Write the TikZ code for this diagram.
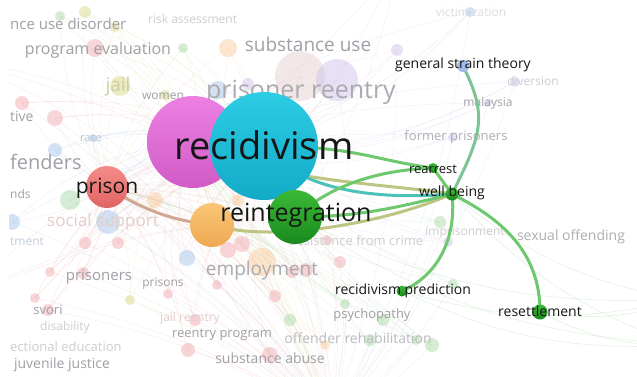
\documentclass[tikz,border=0pt]{standalone}
\usepackage{fontspec}
\newfontfamily\vosfont{Open Sans}
\usetikzlibrary{positioning,calc}
\definecolor{Cyan}{RGB}{45,205,228}
\definecolor{CyanDk}{RGB}{18,170,200}
\definecolor{Magenta}{RGB}{236,128,226}
\definecolor{MagentaDk}{RGB}{208,92,198}
\definecolor{Leaf}{RGB}{60,185,55}
\definecolor{LeafDk}{RGB}{25,138,30}
\definecolor{Apricot}{RGB}{250,198,118}
\definecolor{ApricotDk}{RGB}{238,168,82}
\definecolor{Salmon}{RGB}{244,140,138}
\definecolor{SalmonDk}{RGB}{224,100,100}
\definecolor{Steel}{RGB}{160,185,232}
\definecolor{EdgeGreen}{RGB}{110,200,110}
\definecolor{EdgeTeal}{RGB}{75,195,185}
\definecolor{EdgeOlive}{RGB}{190,196,130}
\definecolor{EdgeBrown}{RGB}{208,168,145}
\definecolor{Ink}{RGB}{22,22,22}
\definecolor{Fade}{RGB}{160,160,166}
\definecolor{Faint}{RGB}{205,205,210}
\definecolor{fPink}{RGB}{240,165,170}
\definecolor{fGreen}{RGB}{165,215,160}
\definecolor{fBlue}{RGB}{160,195,230}
\definecolor{fLav}{RGB}{205,190,235}
\definecolor{fOlive}{RGB}{215,215,130}
\definecolor{fOrange}{RGB}{250,200,150}
\definecolor{fRose}{RGB}{228,205,205}
\pgfdeclarelayer{mesh}
\pgfdeclarelayer{faded}
\pgfdeclarelayer{links}
\pgfsetlayers{mesh,faded,links,main}
\tikzset{
  bubble/.style={circle,inner sep=0pt,draw=none},
  hotdot/.style={bubble,minimum size=#1,top color=Leaf,bottom color=LeafDk},
  lbl/.style={font=\vosfont\fontsize{#1}{#1}\selectfont,text=Ink,inner sep=0pt},
  dim/.style={lbl=#1,text=Fade},
  faint/.style={lbl=#1,text=Faint},
  link/.style={line width=3pt,EdgeGreen,line cap=round},
  ghost/.style={line width=.45pt,opacity=.22},
}
% faded background items: x/y/radius/colour
\def\dotlist{85/12/6/fOlive, 60/16/5/fGreen, 115/27/5/fOlive, 95/48/9/fPink,
  183/48/5/fGreen, 228/48/9/fOrange, 120/86/10/fOlive, 165/95/5/fOlive,
  218/90/9/fBlue, 248/84/6/fLav, 300/76/25/fRose, 337/80/21/fLav,
  397/50/6/fLav, 515/82/5/fLav, 488/103/4/fLav, 453/137/5/fLav,
  22/103/7/fPink, 55/118/8/fPink, 55/150/7/fBlue, 93/138/4/fBlue,
  70/200/10/fGreen, 12/222/8/fBlue, 108/222/12/fBlue, 85/243/6/fPink,
  118/243/6/fPink, 50/272/5/fPink, 83/273/6/fPink, 35/298/5/fPink,
  130/300/5/fOlive, 48/310/6/fPink, 168/294/5/fPink, 187/258/8/fBlue,
  228/250/8/fPink, 242/244/8/fPink, 262/262/14/fOrange, 292/272/6/fPink,
  306/270/7/fPink, 275/296/6/fPink, 217/285/5/fPink, 195/320/6/fPink,
  188/350/7/fPink, 270/355/8/fPink, 340/262/6/fPink, 327/240/5/fPink,
  440/222/6/fGreen, 448/242/5/fLav, 453/284/5/fGreen, 345/304/5/fGreen,
  383/320/6/fGreen, 370/340/6/fGreen, 432/345/7/fGreen, 416/340/5/fGreen,
  290/320/6/fGreen, 325/345/5/fOrange, 470/12/5/fBlue, 155/200/8/fOrange,
  238/200/6/fOrange}

\begin{document}
\begin{tikzpicture}[x=1pt,y=-1pt]
  \useasboundingbox (0,0) rectangle (637,376);

  % highlighted clusters
  \node[bubble,minimum size=92,top color=Magenta,bottom color=MagentaDk] (pinkb) at (193,142) {};
  \node[bubble,minimum size=108,top color=Cyan,bottom color=CyanDk] (recid) at (264,146) {};
  \node[bubble,minimum size=42,top color=Salmon,bottom color=SalmonDk] (prisonb) at (107,187) {};
  \node[bubble,minimum size=44,top color=Apricot,bottom color=ApricotDk] (orangeb) at (212,225) {};
  \node[hotdot=54] (reint) at (295,217) {};
  \node[bubble,minimum size=12,fill=Steel] (gst) at (463,66) {};
  \node[hotdot=10] (rearr) at (433,168) {};
  \node[hotdot=13] (wellb) at (452,194) {};
  \node[hotdot=11] (pred) at (402,291) {};
  \node[hotdot=15] (resettle) at (540,312) {};

  \coordinate (offW1) at (-40,60);
  \coordinate (offW2) at (-40,300);
  \coordinate (offN) at (400,-40);
  \coordinate (offE1) at (680,300);
  \coordinate (offE2) at (680,345);
  \coordinate (offS) at (330,420);

  % faint mesh and faded items
  \begin{pgfonlayer}{mesh}
    \fill[white] (0,0) rectangle (637,376);
    \foreach \px/\py/\pr/\pc in \dotlist {
      \draw[ghost,\pc] (\px,\py) to[bend left=14] (recid.center);
      \draw[ghost,\pc] (\px,\py) to[bend right=12] (prisonb.center);
      \draw[ghost,\pc] (\px,\py) to[bend left=18] (pinkb.center);
      \draw[ghost,\pc] (\px,\py) to[bend left=10] (offS);
    }
    \foreach \h in {offW1,offW2,offN}
      \foreach \k in {pinkb,orangeb,reint}
        \draw[ghost,fPink] (\h) to[bend left=10] (\k.center);
    \foreach \h in {offE1,offE2}
      \foreach \k in {wellb,pred,resettle,reint}
        \draw[ghost,fGreen,opacity=.4] (\k.center) to[bend right=14] (\h);
  \end{pgfonlayer}

  \begin{pgfonlayer}{faded}
    \foreach \px/\py/\pr/\pc in \dotlist
      \fill[\pc,opacity=.45] (\px,\py) circle (\pr);
    \node[dim=15,anchor=west] (sudL) at (10,24) {nce use disorder};
    \node[faint=12,anchor=west] (riskL) at (148,19) {risk assessment};
    \node[dim=16] (progL) at (98,50) {program evaluation};
    \node[dim=19,text=fOlive!80!black!60] (jailL) at (118,87) {jail};
    \node[dim=12] (womenL) at (163,96) {women};
    \node[dim=14,anchor=west] (tiveL) at (10,116) {tive};
    \node[dim=11,text=fBlue!70!black!50] (raceL) at (91,139) {race};
    \node[dim=20,anchor=west] (offL) at (10,162) {fenders};
    \node[dim=12,anchor=west] (ndsL) at (10,194) {nds};
    \node[faint=17,text=fRose] (socL) at (103,222) {social support};
    \node[dim=12,anchor=west,text=fBlue!80!black!50] (tmentL) at (10,242) {tment};
    \node[dim=15] (prsL) at (99,277) {prisoners};
    \node[dim=12] (prisL) at (163,284) {prisons};
    \node[dim=13] (svoriL) at (48,310) {svori};
    \node[faint=12] (disL) at (65,327) {disability};
    \node[faint=13,anchor=west] (eduL) at (10,347) {ectional education};
    \node[dim=14] (juvL) at (62,365) {juvenile justice};
    \node[faint=12,text=fRose] (jrL) at (190,318) {jail reentry};
    \node[dim=13] (rpL) at (222,335) {reentry program};
    \node[dim=14] (saL) at (270,358) {substance abuse};
    \node[faint=14,text=Fade!70] (rehabL) at (358,338) {offender rehabilitation};
    \node[dim=13] (psyL) at (372,315) {psychopathy};
    \node[faint=13] (desL) at (356,241) {desistance from crime};
    \node[faint=12] (impL) at (465,233) {imprisonment};
    \node[dim=14,text=Fade!85] (sexL) at (571,237) {sexual offending};
    \node[dim=13,text=Fade!85] (fpL) at (456,137) {former prisoners};
    \node[dim=12] (malL) at (488,103) {malaysia};
    \node[faint=12] (divL) at (533,81) {diversion};
    \node[faint=12,text=Faint!70] (vicL) at (471,12) {victimization};
    \node[dim=25,text=Fade!90] (preL) at (301,92) {prisoner reentry};
    \node[dim=19,text=Fade!90] (empL) at (262,271) {employment};
    \node[dim=19] (suL) at (308,44) {substance use};
  \end{pgfonlayer}

  % strong links
  \begin{pgfonlayer}{links}
    \draw[link,EdgeBrown] (prisonb.center) .. controls +(40,25) and +(-40,-5) .. (orangeb.center);
    \draw[link,EdgeOlive] (orangeb.center) .. controls +(60,18) and +(-70,30) .. (wellb.center);
    \draw[link,EdgeOlive] (pinkb.center) .. controls +(80,40) and +(-80,-12) .. (wellb.center);
    \draw[link,EdgeTeal] (recid.center) .. controls +(40,50) and +(-60,5) .. (wellb.center);
    \draw[link] (recid.center) .. controls +(90,0) and +(-60,-8) .. (rearr.center);
    \draw[link] (reint.center) .. controls +(40,-35) and +(-50,2) .. (rearr.center);
    \draw[link] (reint.center) .. controls +(60,0) and +(-60,15) .. (wellb.center);
    \draw[link] (rearr.center) -- (wellb.center);
    \draw[link,EdgeGreen!70!Steel] (wellb.center) .. controls +(30,-60) and +(25,50) .. (gst.center);
    \draw[link] (wellb.center) .. controls +(50,25) and +(0,-60) .. (resettle.center);
    \draw[link] (wellb.center) .. controls +(5,45) and +(35,-15) .. (pred.center);
  \end{pgfonlayer}

  % labels
  \node[lbl=38] (recidL) at (264,145) {recidivism};
  \node[lbl=21] (prisonL) at (107,188) {prison};
  \node[lbl=25] (reintL) at (296,215) {reintegration};
  \node[lbl=14] (gstL) at (463,65) {general strain theory};
  \node[lbl=13] (rearrL) at (433,169) {rearrest};
  \node[lbl=14] (wellbL) at (452,193) {well being};
  \node[lbl=14] (predL) at (403,291) {recidivism prediction};
  \node[lbl=14] (resetL) at (540,311) {resettlement};

  \fill[white] (-60,-60) rectangle (9,440);
\end{tikzpicture}
\end{document}
